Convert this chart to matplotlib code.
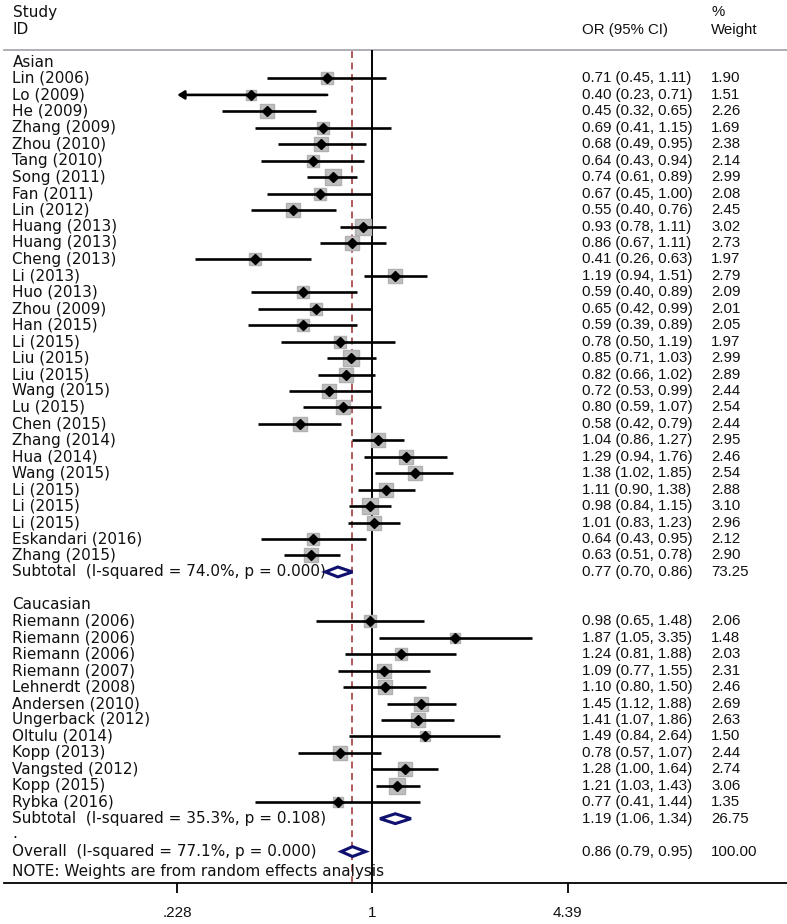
import numpy as np
import matplotlib
matplotlib.use('Agg')
import matplotlib.pyplot as plt
import matplotlib.transforms as mtransforms
from matplotlib.patches import Polygon
from matplotlib.ticker import NullLocator

# Asian studies
asian_names = ['Lin (2006)', 'Lo (2009)', 'He (2009)', 'Zhang (2009)', 'Zhou (2010)',
               'Tang (2010)', 'Song (2011)', 'Fan (2011)', 'Lin (2012)', 'Huang (2013)',
               'Huang (2013)', 'Cheng (2013)', 'Li (2013)', 'Huo (2013)', 'Zhou (2009)',
               'Han (2015)', 'Li (2015)', 'Liu (2015)', 'Liu (2015)', 'Wang (2015)',
               'Lu (2015)', 'Chen (2015)', 'Zhang (2014)', 'Hua (2014)', 'Wang (2015)',
               'Li (2015)', 'Li (2015)', 'Li (2015)', 'Eskandari (2016)', 'Zhang (2015)']
asian_or = [0.71, 0.40, 0.45, 0.69, 0.68, 0.64, 0.74, 0.67, 0.55, 0.93,
            0.86, 0.41, 1.19, 0.59, 0.65, 0.59, 0.78, 0.85, 0.82, 0.72,
            0.80, 0.58, 1.04, 1.29, 1.38, 1.11, 0.98, 1.01, 0.64, 0.63]
asian_lo = [0.45, 0.23, 0.32, 0.41, 0.49, 0.43, 0.61, 0.45, 0.40, 0.78,
            0.67, 0.26, 0.94, 0.40, 0.42, 0.39, 0.50, 0.71, 0.66, 0.53,
            0.59, 0.42, 0.86, 0.94, 1.02, 0.90, 0.84, 0.83, 0.43, 0.51]
asian_hi = [1.11, 0.71, 0.65, 1.15, 0.95, 0.94, 0.89, 1.00, 0.76, 1.11,
            1.11, 0.63, 1.51, 0.89, 0.99, 0.89, 1.19, 1.03, 1.02, 0.99,
            1.07, 0.79, 1.27, 1.76, 1.85, 1.38, 1.15, 1.23, 0.95, 0.78]
asian_w = [1.90, 1.51, 2.26, 1.69, 2.38, 2.14, 2.99, 2.08, 2.45, 3.02,
           2.73, 1.97, 2.79, 2.09, 2.01, 2.05, 1.97, 2.99, 2.89, 2.44,
           2.54, 2.44, 2.95, 2.46, 2.54, 2.88, 3.10, 2.96, 2.12, 2.90]
asian_sub = ('Subtotal  (I-squared = 74.0%, p = 0.000)', 0.77, 0.70, 0.86, 73.25)

# Caucasian studies
cauc_names = ['Riemann (2006)', 'Riemann (2006)', 'Riemann (2006)', 'Riemann (2007)',
              'Lehnerdt (2008)', 'Andersen (2010)', 'Ungerback (2012)', 'Oltulu (2014)',
              'Kopp (2013)', 'Vangsted (2012)', 'Kopp (2015)', 'Rybka (2016)']
cauc_or = [0.98, 1.87, 1.24, 1.09, 1.10, 1.45, 1.41, 1.49, 0.78, 1.28, 1.21, 0.77]
cauc_lo = [0.65, 1.05, 0.81, 0.77, 0.80, 1.12, 1.07, 0.84, 0.57, 1.00, 1.03, 0.41]
cauc_hi = [1.48, 3.35, 1.88, 1.55, 1.50, 1.88, 1.86, 2.64, 1.07, 1.64, 1.43, 1.44]
cauc_w = [2.06, 1.48, 2.03, 2.31, 2.46, 2.69, 2.63, 1.50, 2.44, 2.74, 3.06, 1.35]
cauc_sub = ('Subtotal  (I-squared = 35.3%, p = 0.108)', 1.19, 1.06, 1.34, 26.75)

overall = ('Overall  (I-squared = 77.1%, p = 0.000)', 0.86, 0.79, 0.95, 100.00)
note = 'NOTE: Weights are from random effects analysis'

xticks = [0.228, 1, 4.39]
xticklabels = ['.228', '1', '4.39']

W, H = 787, 924
fig = plt.figure(figsize=(W / 100, H / 100), dpi=100)
px_left, px_right = 177.3, 567.5
px_top, px_bot = 50, 883
ax = fig.add_axes([px_left / W, 1 - px_bot / H, (px_right - px_left) / W, (px_bot - px_top) / H])
ax.set_xscale('log')
ax.set_xlim(xticks[0], xticks[-1])
ytop, ybot = -0.73, 49.91
ax.set_ylim(ybot, ytop)
for s in ax.spines.values():
    s.set_visible(False)
ax.set_yticks([])
ax.set_xticks(xticks)
ax.set_xticklabels(xticklabels, family='Liberation Sans', fontsize=11, color='#111111')
ax.xaxis.set_minor_locator(NullLocator())
ax.tick_params(axis='x', direction='out', length=7.5, width=1.3, pad=9)

lab_font = dict(family='DejaVu Sans', fontsize=11, color='#111111')
num_font = dict(family='Liberation Sans', fontsize=10.8, color='#111111')
trans = mtransforms.blended_transform_factory(fig.transFigure, ax.transData)
x_lab, x_or, x_w = 12.5 / W, 582 / W, 711 / W

# frame lines
ext_l = (4 - px_left) / (px_right - px_left)
ext_r = (787 - px_left) / (px_right - px_left)
ax.axhline(ytop, ext_l, ext_r, color='#a8a8b0', lw=1.3, clip_on=False)
ax.axhline(ybot, ext_l, ext_r, color='black', lw=1.3, clip_on=False)
ax.axvline(1, color='black', lw=1.4, zorder=2)
ax.axvline(overall[1], color='#9b2d30', lw=1.1, ls=(0, (4.5, 3)), zorder=1)

# headers
ax.text(x_lab, -3.04, 'Study', transform=trans, va='center', **lab_font)
ax.text(x_lab, -1.95, 'ID', transform=trans, va='center', **lab_font)
ax.text(x_or, -1.95, 'OR (95% CI)', transform=trans, va='center', **num_font)
ax.text(x_w, -3.04, '%', transform=trans, va='center', **num_font)
ax.text(x_w, -1.95, 'Weight', transform=trans, va='center', **num_font)


def study_row(y, name, o, lo, hi, w):
    ax.text(x_lab, y, name, transform=trans, va='center', **lab_font)
    ax.text(x_or, y, f'{o:.2f} ({lo:.2f}, {hi:.2f})', transform=trans, va='center', **num_font)
    ax.text(x_w, y, f'{w:.2f}', transform=trans, va='center', **num_font)
    ax.plot([o], [y], marker='s', ms=6.26 * np.sqrt(w), color='#bebebe', mec='#b0b0b0', zorder=3)
    if round(xticks[0], 2) >= lo:
        ax.annotate('', xy=(xticks[0], y), xytext=(hi, y), zorder=4,
                    arrowprops=dict(arrowstyle='-|>,head_length=0.4,head_width=0.25',
                                    lw=1.9, color='black', shrinkA=0, shrinkB=0))
    else:
        ax.plot([lo, hi], [y, y], color='black', lw=1.9, solid_capstyle='butt', zorder=4)
    ax.plot([o], [y], marker='D', ms=5.5, color='black', zorder=5)


def summary_row(y, label, o, lo, hi, w):
    ax.text(x_lab, y, label, transform=trans, va='center', **lab_font)
    ax.text(x_or, y, f'{o:.2f} ({lo:.2f}, {hi:.2f})', transform=trans, va='center', **num_font)
    ax.text(x_w, y, f'{w:.2f}', transform=trans, va='center', **num_font)
    dh = 0.3
    ax.add_patch(Polygon([(lo, y), (o, y - dh), (hi, y), (o, y + dh)], closed=True,
                         facecolor='white', edgecolor='#10106e', lw=2.2, zorder=6))


row = 0
ax.text(x_lab, row, 'Asian', transform=trans, va='center', **lab_font)
for i in range(len(asian_names)):
    row += 1
    study_row(row, asian_names[i], asian_or[i], asian_lo[i], asian_hi[i], asian_w[i])
row += 1
summary_row(row, *asian_sub)
row += 2
ax.text(x_lab, row, 'Caucasian', transform=trans, va='center', **lab_font)
for i in range(len(cauc_names)):
    row += 1
    study_row(row, cauc_names[i], cauc_or[i], cauc_lo[i], cauc_hi[i], cauc_w[i])
row += 1
summary_row(row, *cauc_sub)
row += 1
ax.text(x_lab, row - 0.1, '.', transform=trans, va='center', **lab_font)
row += 1
summary_row(row, *overall)
ax.text(x_lab, row + 1.2, note, transform=trans, va='center', **lab_font)

fig.savefig('out.png', dpi=100)
